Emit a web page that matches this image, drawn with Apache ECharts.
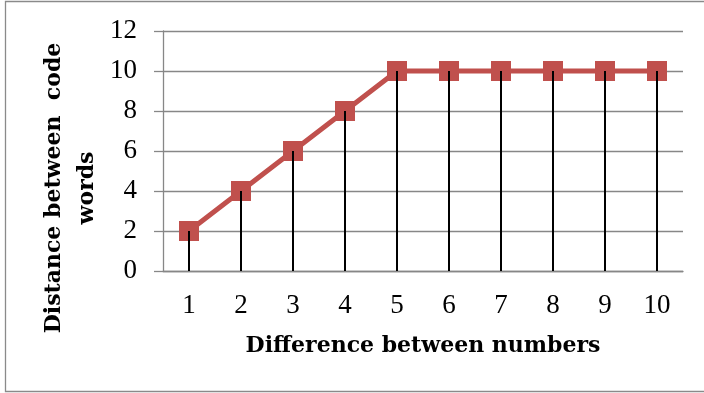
<!DOCTYPE html>
<html>
<head>
<meta charset="utf-8">
<script src="https://cdn.jsdelivr.net/npm/echarts@6/dist/echarts.min.js"></script>
<style>html,body{margin:0;padding:0;background:#fff;}#c{width:704px;height:393px;}</style>
</head>
<body>
<div id="c"></div>
<script>
var categories = ['1','2','3','4','5','6','7','8','9','10'];
var distanceValues = [2, 4, 6, 8, 10, 10, 10, 10, 10, 10];
var yTicks = [0, 2, 4, 6, 8, 10, 12];
var xTitle = 'Difference between numbers';
var yTitle = 'Distance between  code\nwords';

var chart = echarts.init(document.getElementById('c'), null, {renderer: 'canvas'});
var gridColor = '#878787';
chart.setOption({
  animation: false,
  backgroundColor: '#ffffff',
  grid: {left: 163, right: 21, top: 31, bottom: 122, containLabel: false},
  xAxis: {
    type: 'category',
    data: categories,
    boundaryGap: true,
    axisLine: {show: true, lineStyle: {color: gridColor, width: 1.3}},
    axisTick: {show: false},
    axisLabel: {fontFamily: 'Liberation Serif', fontSize: 27, color: '#000', margin: 21},
    name: xTitle,
    nameLocation: 'middle',
    nameGap: 64,
    nameTextStyle: {fontFamily: 'DejaVu Serif', fontWeight: 'bold', fontSize: 22, color: '#000'}
  },
  yAxis: {
    type: 'value',
    min: yTicks[0],
    max: yTicks[yTicks.length - 1],
    interval: 2,
    axisLine: {show: true, lineStyle: {color: gridColor, width: 1.3}},
    axisTick: {show: true, length: 9, lineStyle: {color: gridColor, width: 1.3}},
    splitLine: {show: true, lineStyle: {color: gridColor, width: 1.3}},
    axisLabel: {fontFamily: 'Liberation Serif', fontSize: 27, color: '#000', margin: 26}
  },
  graphic: [
    {type: 'rect', shape: {x: 5.5, y: 1.5, width: 720, height: 390}, style: {fill: 'none', stroke: '#8a8a8a', lineWidth: 1.3}, z: 0, silent: true},
    {type: 'text', x: 71, y: 188, rotation: Math.PI / 2,
     style: {text: yTitle, fontFamily: 'DejaVu Serif', fontWeight: 'bold', fontSize: 22, lineHeight: 33, fill: '#000', align: 'center', verticalAlign: 'middle'}, z: 10}
  ],
  series: [
    {
      type: 'line',
      data: distanceValues,
      symbol: 'rect',
      symbolSize: 20,
      lineStyle: {color: '#C0504D', width: 5},
      itemStyle: {color: '#C0504D'},
      z: 2
    },
    {
      type: 'bar',
      data: distanceValues,
      barWidth: 2,
      itemStyle: {color: '#000'},
      z: 5
    }
  ]
});
</script>
</body>
</html>
